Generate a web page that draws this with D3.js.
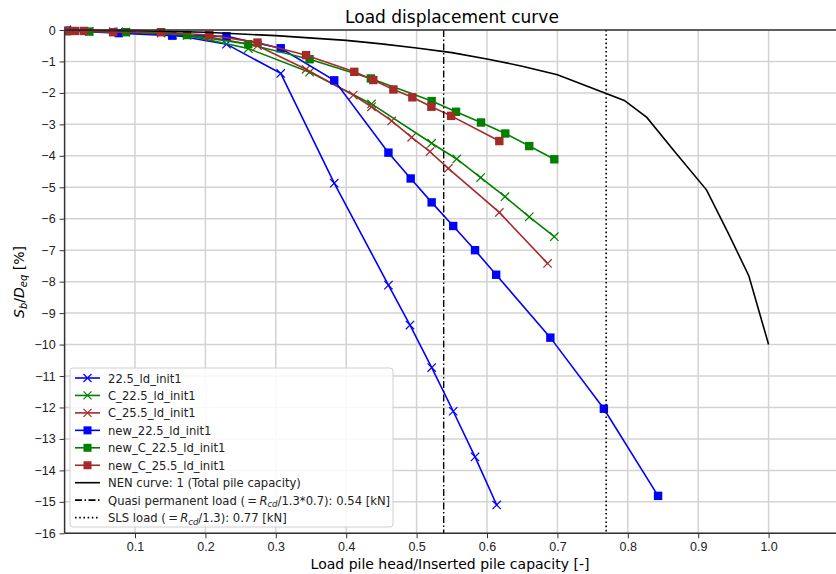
<!DOCTYPE html>
<html>
<head>
<meta charset="utf-8">
<script src="https://cdn.jsdelivr.net/npm/d3@7"></script>
<style>
  body { margin: 0; background: #fff; }
  svg { display: block; font-family: "DejaVu Sans", sans-serif; }
</style>
</head>
<body>
<svg id="chart" width="836" height="574"></svg>
<script>
// data: [load ratio, Sb/Deq %]
const ld225 = [[0.003, 0], [0.077, -0.06], [0.153, -0.15], [0.23, -0.45], [0.307, -1.38], [0.383, -4.87],
  [0.46, -8.11], [0.4906, -9.38], [0.5215, -10.73], [0.552, -12.12], [0.583, -13.57], [0.6138, -15.1]];
const ldC225 = [[0.003, 0], [0.035, -0.04], [0.087, -0.07], [0.174, -0.17], [0.261, -0.59], [0.348, -1.34],
  [0.436, -2.35], [0.5214, -3.6], [0.557, -4.1], [0.591, -4.69], [0.6256, -5.3], [0.66, -5.94], [0.6956, -6.57]];
const ldC255 = [[0.003, 0], [0.069, -0.05], [0.137, -0.1], [0.2055, -0.22], [0.274, -0.5], [0.343, -1.25],
  [0.41, -2.07], [0.436, -2.44], [0.4646, -2.89], [0.493, -3.41], [0.519, -3.87], [0.545, -4.4], [0.6175, -5.8], [0.686, -7.42]];
const newLd225 = [[0.003, -0.02], [0.077, -0.1], [0.153, -0.18], [0.23, -0.2], [0.307, -0.58], [0.383, -1.6],
  [0.46, -3.9], [0.4916, -4.72], [0.5214, -5.48], [0.552, -6.23], [0.583, -7.0], [0.613, -7.78],
  [0.69, -9.78], [0.766, -12.04], [0.843, -14.81]];
const newLdC225 = [[0.003, -0.04], [0.035, -0.05], [0.087, -0.07], [0.174, -0.16], [0.261, -0.45], [0.348, -0.93],
  [0.435, -1.54], [0.5214, -2.26], [0.556, -2.6], [0.5915, -2.94], [0.626, -3.29], [0.66, -3.69], [0.6956, -4.11]];
const newLdC255 = [[0.003, -0.03], [0.015, -0.03], [0.0275, -0.03], [0.069, -0.07], [0.137, -0.07], [0.2055, -0.16],
  [0.274, -0.4], [0.343, -0.8], [0.4115, -1.33], [0.4385, -1.59], [0.467, -1.89], [0.494, -2.14],
  [0.521, -2.44], [0.549, -2.73], [0.6175, -3.53]];
const nenCurve = [[0, 0], [0.1, -0.02], [0.2, -0.07], [0.3, -0.18], [0.4, -0.33], [0.45, -0.44], [0.5, -0.57],
  [0.55, -0.72], [0.6, -0.92], [0.65, -1.15], [0.7, -1.42], [0.795, -2.24], [0.827, -2.78], [0.865, -3.82],
  [0.912, -5.09], [0.943, -6.47], [0.972, -7.82], [1.0, -10.0]];
const quasiLoad = 0.7 / 1.3;
const slsLoad = 1 / 1.3;

const xTicks = [0.1, 0.2, 0.3, 0.4, 0.5, 0.6, 0.7, 0.8, 0.9, 1.0];
const yTicks = d3.range(0, -17, -1);

const series = [
  { name: "22.5_ld_init1", data: ld225, color: "#0000ff", marker: "x" },
  { name: "C_22.5_ld_init1", data: ldC225, color: "#008000", marker: "x" },
  { name: "C_25.5_ld_init1", data: ldC255, color: "#a52a2a", marker: "x" },
  { name: "new_22.5_ld_init1", data: newLd225, color: "#0000ff", marker: "s" },
  { name: "new_C_22.5_ld_init1", data: newLdC225, color: "#008000", marker: "s" },
  { name: "new_C_25.5_ld_init1", data: newLdC255, color: "#a52a2a", marker: "s" },
];

const svg = d3.select("#chart");
const plotLeft = 64.6, plotTop = 30, plotBottom = 533.3;

const x = d3.scaleLinear().domain([0, 1.1]).range([plotLeft, plotLeft + 1.1 * 704]);
const y = d3.scaleLinear().domain([-16, 0]).range([plotBottom, plotTop]);

// grid
svg.append("g")
  .selectAll("line")
  .data(xTicks)
  .join("line")
  .attr("x1", d => x(d)).attr("x2", d => x(d))
  .attr("y1", plotTop).attr("y2", plotBottom)
  .attr("stroke", "#d3d3d3").attr("stroke-width", 1.5);
svg.append("g")
  .selectAll("line")
  .data(yTicks)
  .join("line")
  .attr("x1", plotLeft).attr("x2", 836)
  .attr("y1", d => y(d)).attr("y2", d => y(d))
  .attr("stroke", "#d3d3d3").attr("stroke-width", 1.5);

svg.append("defs").append("clipPath").attr("id", "plot")
  .append("rect").attr("x", plotLeft).attr("y", plotTop - 6)
  .attr("width", 836 - plotLeft).attr("height", plotBottom - plotTop + 6);

const line = d3.line().x(d => x(d[0])).y(d => y(d[1]));
const plot = svg.append("g").attr("clip-path", "url(#plot)");

// series lines + markers
series.forEach(s => {
  plot.append("path")
    .datum(s.data)
    .attr("d", line)
    .attr("fill", "none")
    .attr("stroke", s.color)
    .attr("stroke-width", 1.6);
  const g = plot.append("g");
  if (s.marker === "s") {
    g.selectAll("rect")
      .data(s.data)
      .join("rect")
      .attr("x", d => x(d[0]) - 4.2)
      .attr("y", d => y(d[1]) - 4.2)
      .attr("width", 8.4).attr("height", 8.4)
      .attr("fill", s.color);
  } else {
    g.selectAll("path")
      .data(s.data)
      .join("path")
      .attr("transform", d => `translate(${x(d[0])},${y(d[1])})`)
      .attr("d", "M-4.2,-4.2L4.2,4.2M-4.2,4.2L4.2,-4.2")
      .attr("stroke", s.color)
      .attr("stroke-width", 1.2);
  }
});

// NEN curve
plot.append("path")
  .datum(nenCurve)
  .attr("d", line)
  .attr("fill", "none")
  .attr("stroke", "#000")
  .attr("stroke-width", 1.6);

// load lines
svg.append("line")
  .attr("x1", x(quasiLoad)).attr("x2", x(quasiLoad))
  .attr("y1", plotTop).attr("y2", plotBottom)
  .attr("stroke", "#000").attr("stroke-width", 1.4)
  .attr("stroke-dasharray", "7,2.5,1.5,2.5");
svg.append("line")
  .attr("x1", x(slsLoad)).attr("x2", x(slsLoad))
  .attr("y1", plotTop).attr("y2", plotBottom)
  .attr("stroke", "#000").attr("stroke-width", 1.6)
  .attr("stroke-dasharray", "1.6,2.6");

// axes
const xAxis = svg.append("g")
  .attr("transform", `translate(0,${plotBottom})`)
  .call(d3.axisBottom(x).tickValues(xTicks).tickFormat(d3.format(".1f")).tickSize(5).tickPadding(4));
const yAxis = svg.append("g")
  .attr("transform", `translate(${plotLeft},0)`)
  .call(d3.axisLeft(y).tickValues(yTicks).tickFormat(d3.format("d")).tickSize(5).tickPadding(4));
[xAxis, yAxis].forEach(a => {
  a.select(".domain").remove();
  a.selectAll("text").style("font-size", "12.5px").attr("fill", "#222");
  a.selectAll(".tick line").attr("stroke", "#333");
});

// spines
svg.append("line").attr("x1", plotLeft).attr("x2", 836).attr("y1", plotTop).attr("y2", plotTop).attr("stroke", "#333").attr("stroke-width", 1.5);
svg.append("line").attr("x1", plotLeft).attr("x2", 836).attr("y1", plotBottom).attr("y2", plotBottom).attr("stroke", "#333").attr("stroke-width", 1.5);
svg.append("line").attr("x1", plotLeft).attr("x2", plotLeft).attr("y1", plotTop).attr("y2", plotBottom).attr("stroke", "#333").attr("stroke-width", 1.5);

// title and labels
svg.append("text")
  .attr("x", 452).attr("y", 23)
  .attr("text-anchor", "middle")
  .style("font-size", "17px")
  .text("Load displacement curve");

svg.append("text")
  .attr("x", 450).attr("y", 569)
  .attr("text-anchor", "middle")
  .style("font-size", "14px")
  .text("Load pile head/Inserted pile capacity [-]");

const yl = svg.append("text")
  .attr("transform", "translate(24,282) rotate(-90)")
  .attr("text-anchor", "middle")
  .style("font-size", "14px");
yl.append("tspan").style("font-style", "italic").text("S");
yl.append("tspan").style("font-style", "italic").style("font-size", "10px").attr("dy", 3).text("b");
yl.append("tspan").attr("dy", -3).text("/");
yl.append("tspan").style("font-style", "italic").text("D");
yl.append("tspan").style("font-style", "italic").style("font-size", "10px").attr("dy", 3).text("eq");
yl.append("tspan").attr("dy", -3).text(" [%]");

// legend
const legend = svg.append("g").attr("transform", "translate(70,368)");
legend.append("rect")
  .attr("width", 323).attr("height", 159)
  .attr("rx", 3)
  .attr("fill", "#fff").attr("fill-opacity", 0.85)
  .attr("stroke", "#d0d0d0");

const legendRows = series.map(s => ({ ...s, dash: null }))
  .concat([
    { name: "NEN curve: 1 (Total pile capacity)", color: "#000", marker: null, dash: null },
    { name: "quasi", color: "#000", marker: null, dash: "7,2.5,1.5,2.5" },
    { name: "sls", color: "#000", marker: null, dash: "1.6,2.6" },
  ]);

legendRows.forEach((r, i) => {
  const ry = 10 + i * 17.45;
  const row = legend.append("g").attr("transform", `translate(0,${ry})`);
  row.append("line")
    .attr("x1", 5).attr("x2", 30).attr("y1", 0).attr("y2", 0)
    .attr("stroke", r.color).attr("stroke-width", 1.6)
    .attr("stroke-dasharray", r.dash);
  if (r.marker === "s") {
    row.append("rect").attr("x", 13.5).attr("y", -4).attr("width", 8).attr("height", 8).attr("fill", r.color);
  } else if (r.marker === "x") {
    row.append("path").attr("transform", "translate(17.5,0)")
      .attr("d", "M-4,-4L4,4M-4,4L4,-4").attr("stroke", r.color).attr("stroke-width", 1.2);
  }
  const t = row.append("text").attr("x", 38).attr("y", 4.5).style("font-size", "11.6px").attr("fill", "#222");
  if (r.name === "quasi" || r.name === "sls") {
    t.append("tspan").text(r.name === "quasi" ? "Quasi permanent load (\u2009=\u2009" : "SLS load (\u2009=\u2009");
    t.append("tspan").style("font-style", "italic").text("R");
    t.append("tspan").style("font-style", "italic").style("font-size", "8.5px").attr("dy", 2.5).text("cd");
    t.append("tspan").attr("dy", -2.5)
      .text(r.name === "quasi" ? "/1.3*0.7): 0.54 [kN]" : "/1.3): 0.77 [kN]");
  } else {
    t.text(r.name);
  }
});
</script>
</body>
</html>
